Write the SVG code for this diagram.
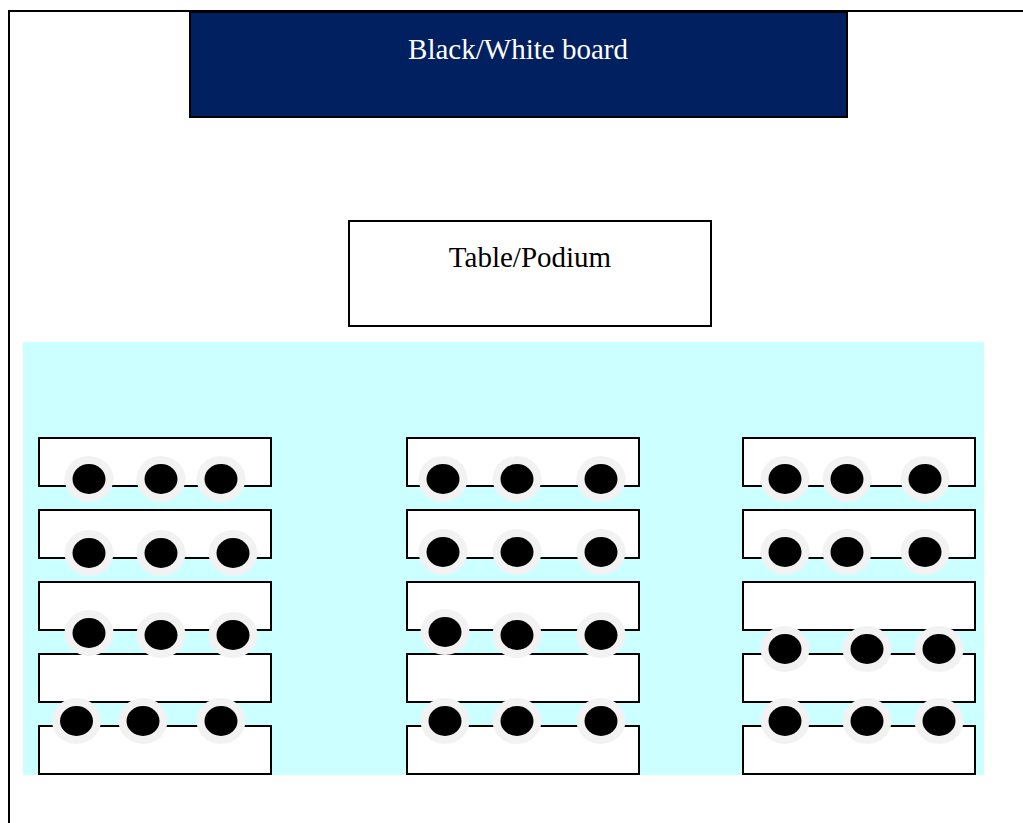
<svg xmlns="http://www.w3.org/2000/svg" width="1023" height="823" viewBox="0 0 1023 823">
<style>
.t{fill:#fff;stroke:#000;stroke-width:2}
.o{fill:#f2f2f2}
.i{fill:#000}
text{font-family:"Liberation Serif","Times New Roman",serif;font-size:29px;text-anchor:middle}
</style>
<defs>
<g id="seat"><ellipse class="o" rx="24.5" ry="23"/><ellipse class="i" rx="16.5" ry="15"/></g>
</defs>
<rect width="1023" height="823" fill="#fff"/>
<path id="frame" d="M9 823V11H1023" fill="none" stroke="#000" stroke-width="2"/>
<g id="board"><rect x="190" y="12" width="657" height="105" fill="#002060" stroke="#000" stroke-width="2"/><text x="518" y="59" fill="#fff">Black/White board</text></g>
<g id="podium"><rect x="349" y="221" width="362" height="105" fill="#fff" stroke="#000" stroke-width="2"/><text x="530" y="267" fill="#000">Table/Podium</text></g>
<rect id="floor" x="23" y="342" width="961" height="433" fill="#ccffff"/>
<g id="tables-left">
<rect class="t" x="39" y="438" width="232" height="48"/><rect class="t" x="39" y="510" width="232" height="48"/><rect class="t" x="39" y="582" width="232" height="48"/><rect class="t" x="39" y="654" width="232" height="48"/><rect class="t" x="39" y="726" width="232" height="48"/>
</g>
<g id="tables-middle">
<rect class="t" x="407" y="438" width="232" height="48"/><rect class="t" x="407" y="510" width="232" height="48"/><rect class="t" x="407" y="582" width="232" height="48"/><rect class="t" x="407" y="654" width="232" height="48"/><rect class="t" x="407" y="726" width="232" height="48"/>
</g>
<g id="tables-right">
<rect class="t" x="743" y="438" width="232" height="48"/><rect class="t" x="743" y="510" width="232" height="48"/><rect class="t" x="743" y="582" width="232" height="48"/><rect class="t" x="743" y="654" width="232" height="48"/><rect class="t" x="743" y="726" width="232" height="48"/>
</g>
<g id="seats-left">
<use href="#seat" x="89" y="479"/><use href="#seat" x="161" y="479"/><use href="#seat" x="221" y="479"/>
<use href="#seat" x="89" y="553"/><use href="#seat" x="161" y="553"/><use href="#seat" x="233" y="553"/>
<use href="#seat" x="89" y="633"/><use href="#seat" x="161" y="635"/><use href="#seat" x="233" y="635"/>
<use href="#seat" x="76.500" y="721"/><use href="#seat" x="143" y="721"/><use href="#seat" x="221" y="721"/>
</g>
<g id="seats-middle">
<use href="#seat" x="443" y="479"/><use href="#seat" x="517" y="479"/><use href="#seat" x="601" y="479"/>
<use href="#seat" x="443" y="552"/><use href="#seat" x="517" y="552"/><use href="#seat" x="601" y="552"/>
<use href="#seat" x="445" y="632"/><use href="#seat" x="517" y="635"/><use href="#seat" x="601" y="635"/>
<use href="#seat" x="445" y="721"/><use href="#seat" x="517" y="721"/><use href="#seat" x="601" y="721"/>
</g>
<g id="seats-right">
<use href="#seat" x="785" y="479"/><use href="#seat" x="847" y="479"/><use href="#seat" x="925" y="479"/>
<use href="#seat" x="785" y="552"/><use href="#seat" x="847" y="552"/><use href="#seat" x="925" y="552"/>
<use href="#seat" x="785" y="649"/><use href="#seat" x="867" y="649"/><use href="#seat" x="939" y="649"/>
<use href="#seat" x="785" y="721"/><use href="#seat" x="867" y="721"/><use href="#seat" x="939" y="721"/>
</g>
</svg>
